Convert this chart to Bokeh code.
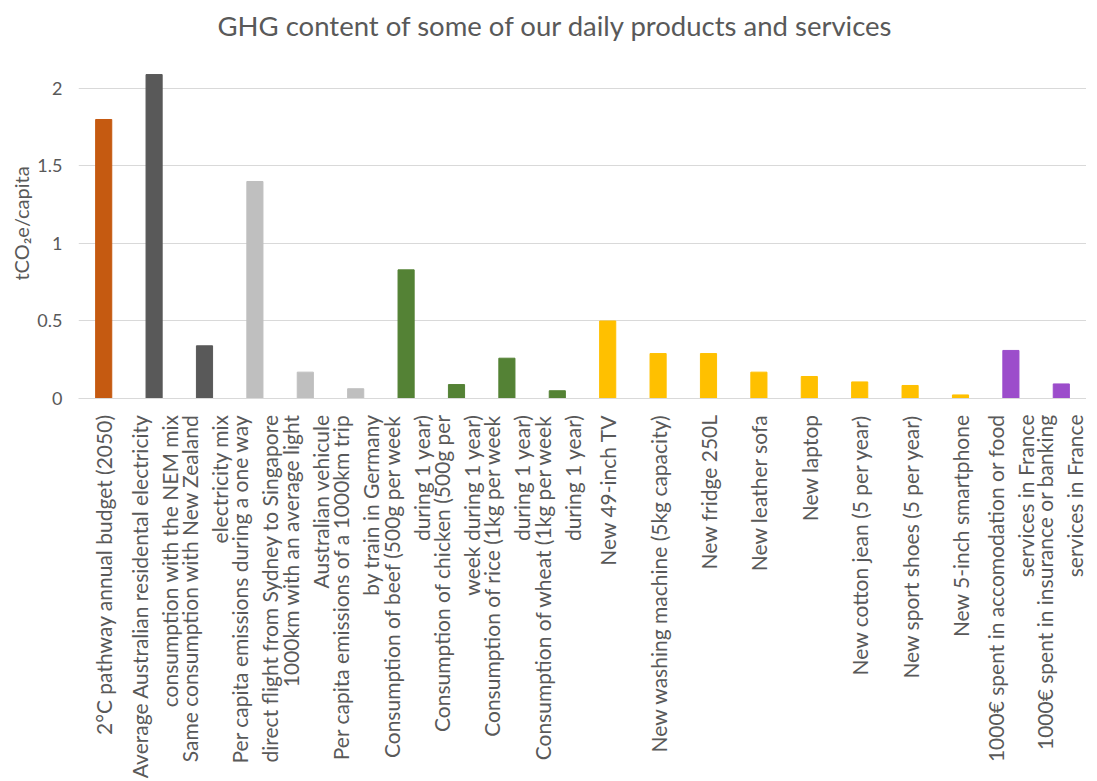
import math
from bokeh.plotting import figure
from bokeh.models import ColumnDataSource, Range1d, FactorRange, FixedTicker
from bokeh.embed import file_html
from bokeh.resources import INLINE

categories = [
    "2°C pathway annual budget (2050)",
    "Average Australian residental electricity\nconsumption with the NEM mix",
    "Same consumption with New Zealand\nelectricity mix",
    "Per capita emissions during a one way\ndirect flight from Sydney to Singapore",
    "1000km with an average light\nAustralian vehicule",
    "Per capita emissions of a 1000km trip\nby train in Germany",
    "Consumption of beef (500g per week\nduring 1 year)",
    "Consumption of chicken (500g per\nweek during 1 year)",
    "Consumption of rice (1kg per week\nduring 1 year)",
    "Consumption of wheat (1kg per week\nduring 1 year)",
    "New 49-inch TV",
    "New washing machine (5kg capacity)",
    "New fridge 250L",
    "New leather sofa",
    "New laptop",
    "New cotton jean (5 per year)",
    "New sport shoes (5 per year)",
    "New 5-inch smartphone",
    "1000€ spent in accomodation or food\nservices in France",
    "1000€ spent in insurance or banking\nservices in France",
]
values = [1.80, 2.09, 0.34, 1.40, 0.17, 0.063, 0.83, 0.09, 0.26, 0.05,
          0.50, 0.29, 0.29, 0.17, 0.142, 0.107, 0.084, 0.023, 0.31, 0.094]
groups = ["budget", "electricity", "electricity", "transport", "transport", "transport",
          "food", "food", "food", "food",
          "goods", "goods", "goods", "goods", "goods", "goods", "goods", "goods",
          "services", "services"]
group_colors = {"budget": "#C55A11", "electricity": "#595959", "transport": "#BFBFBF",
                "food": "#548235", "goods": "#FFC000", "services": "#9C4DCB"}
y_ticks = [0, 0.5, 1, 1.5, 2]

colors = [group_colors[g] for g in groups]
src = ColumnDataSource(dict(cat=categories, val=values, color=colors))

p = figure(frame_width=1008, frame_height=350,
           x_range=FactorRange(*categories, range_padding=0),
           y_range=Range1d(0, 2.258), output_backend="svg", toolbar_location=None,
           title="GHG content of some of our daily products and services",
           min_border_left=78, min_border_right=0, min_border_top=48, min_border_bottom=0)
p.vbar(x="cat", top="val", width=0.32, color="color", source=src)

p.title.align = "left"
p.title.offset = 139
p.title.text_font = "Lato"
p.title.text_font_size = "27.5px"
p.title.text_font_style = "normal"
p.title.text_color = "#595959"
p.title.standoff = 13

p.outline_line_color = None
p.background_fill_color = "white"
p.border_fill_color = "white"
p.xgrid.grid_line_color = None
p.ygrid.grid_line_color = "#D9D9D9"
p.ygrid.grid_line_width = 1.2
p.yaxis.ticker = FixedTicker(ticks=y_ticks)
p.yaxis.axis_line_color = None
p.yaxis.major_tick_line_color = None
p.yaxis.minor_tick_line_color = None
p.yaxis.major_label_text_font = "Lato"
p.yaxis.major_label_text_font_size = "18px"
p.yaxis.major_label_text_color = "#595959"
p.yaxis.major_label_standoff = 10
p.yaxis.axis_label = "tCO₂e/capita"
p.yaxis.axis_label_text_font = "Lato"
p.yaxis.axis_label_text_font_size = "20px"
p.yaxis.axis_label_text_font_style = "normal"
p.yaxis.axis_label_text_color = "#595959"
p.yaxis.axis_label_standoff = 1

p.xaxis.axis_line_color = "#D9D9D9"
p.xaxis.axis_line_width = 1.2
p.xaxis.major_tick_line_color = None
p.xaxis.minor_tick_line_color = None
p.xaxis.major_label_orientation = math.pi / 2
p.xaxis.major_label_text_font = "Lato"
p.xaxis.major_label_text_font_size = "21px"
p.xaxis.major_label_text_color = "#595959"
p.xaxis.major_label_standoff = 10

open("out.html", "w").write(file_html(p, INLINE))
